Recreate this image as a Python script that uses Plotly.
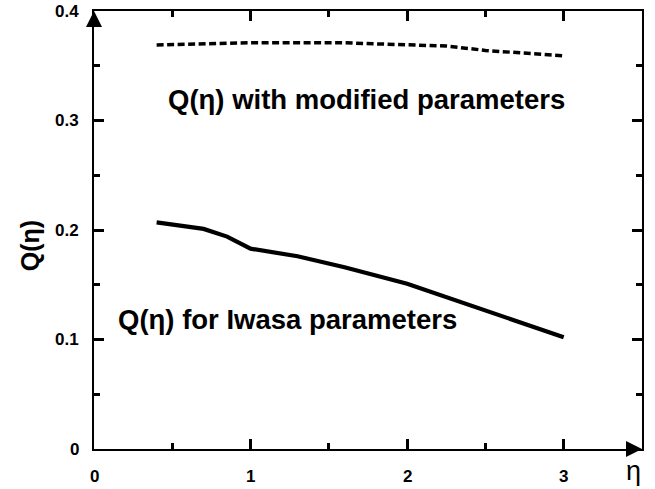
import plotly.graph_objects as go

# Q(eta) curves
eta_iwasa = [0.4, 0.55, 0.7, 0.85, 0.93, 1.0, 1.3, 1.6, 2.0, 2.3, 2.6, 3.0]
q_iwasa = [0.207, 0.204, 0.201, 0.194, 0.188, 0.183, 0.176, 0.166, 0.151, 0.136, 0.121, 0.102]

eta_mod = [0.4, 0.7, 1.0, 1.3, 1.6, 1.8, 2.0, 2.25, 2.5, 2.8, 3.0]
q_mod = [0.369, 0.370, 0.371, 0.371, 0.371, 0.370, 0.369, 0.368, 0.364, 0.361, 0.359]

x_ticks = [0, 1, 2, 3]
x_tick_text = ["0", "1", "2", "3"]
y_ticks = [0, 0.1, 0.2, 0.3, 0.4]
y_tick_text = ["0", "0.1", "0.2", "0.3", "0.4"]

FONT = "Liberation Sans, Arial, sans-serif"
TICK_FONT = dict(family=FONT, size=17, color="black", weight="bold")

fig = go.Figure()
fig.add_trace(go.Scatter(x=eta_mod, y=q_mod, mode="lines",
                         line=dict(color="black", width=3.5, dash="7px,3.5px"),
                         showlegend=False))
fig.add_trace(go.Scatter(x=eta_iwasa, y=q_iwasa, mode="lines",
                         line=dict(color="black", width=4.2),
                         showlegend=False))

axis_common = dict(
    showline=True, linecolor="black", linewidth=2, mirror="ticks",
    ticks="inside", ticklen=10, tickwidth=2.5, tickcolor="black",
    showgrid=False, zeroline=False, automargin=False, showticklabels=False,
)

fig.update_xaxes(range=[0, 3.5], tickmode="linear", tick0=0, dtick=1,
                 minor=dict(dtick=0.5, ticks="inside", ticklen=6,
                            tickwidth=2.5, tickcolor="black"),
                 **axis_common)
fig.update_yaxes(range=[0, 0.4], tickmode="linear", tick0=0, dtick=0.1,
                 minor=dict(dtick=0.05, ticks="inside", ticklen=6,
                            tickwidth=2.5, tickcolor="black"),
                 **axis_common)

annotations = []
# tick labels, set a little further from the axes than the default
for v, t in zip(x_ticks, x_tick_text):
    annotations.append(dict(x=v, y=0, xref="x", yref="y", xanchor="center",
                            yanchor="middle", yshift=-27, text=t,
                            showarrow=False, font=TICK_FONT))
for v, t in zip(y_ticks, y_tick_text):
    annotations.append(dict(x=0, y=v, xref="x", yref="y", xanchor="right",
                            yanchor="middle", xshift=-13, text=t,
                            showarrow=False, font=TICK_FONT))

annotations += [
    dict(x=0.46, y=0.319, xref="x", yref="y", xanchor="left", yanchor="middle",
         text="Q(η) with modified parameters", showarrow=False,
         font=dict(family=FONT, size=27.5, color="black", weight="bold")),
    dict(x=0.14, y=0.118, xref="x", yref="y", xanchor="left", yanchor="middle",
         text="Q(η) for Iwasa parameters", showarrow=False,
         font=dict(family=FONT, size=27.5, color="black", weight="bold")),
    # axis titles
    dict(x=-0.117, y=0.465, xref="paper", yref="paper", xanchor="center", yanchor="middle",
         text="Q(η)", textangle=-90, showarrow=False,
         font=dict(family=FONT, size=25, color="black", weight="bold")),
    dict(x=0.985, y=-0.012, xref="paper", yref="paper", xanchor="center", yanchor="top",
         text="η", showarrow=False,
         font=dict(family=FONT, size=27, color="black")),
    # axis arrowheads
    dict(x=0, y=0.4, xref="x", yref="y", ax=0, ay=16,
         showarrow=True, arrowhead=2, arrowsize=1.6, arrowwidth=2, arrowcolor="black",
         text=""),
    dict(x=3.5, y=0, xref="x", yref="y", ax=-16, ay=0,
         showarrow=True, arrowhead=2, arrowsize=1.6, arrowwidth=2, arrowcolor="black",
         text=""),
]

fig.update_layout(
    width=655, height=489,
    margin=dict(l=94, r=13, t=11, b=40, autoexpand=False),
    paper_bgcolor="white", plot_bgcolor="white",
    annotations=annotations,
    showlegend=False,
)

fig.write_html("out.html")
